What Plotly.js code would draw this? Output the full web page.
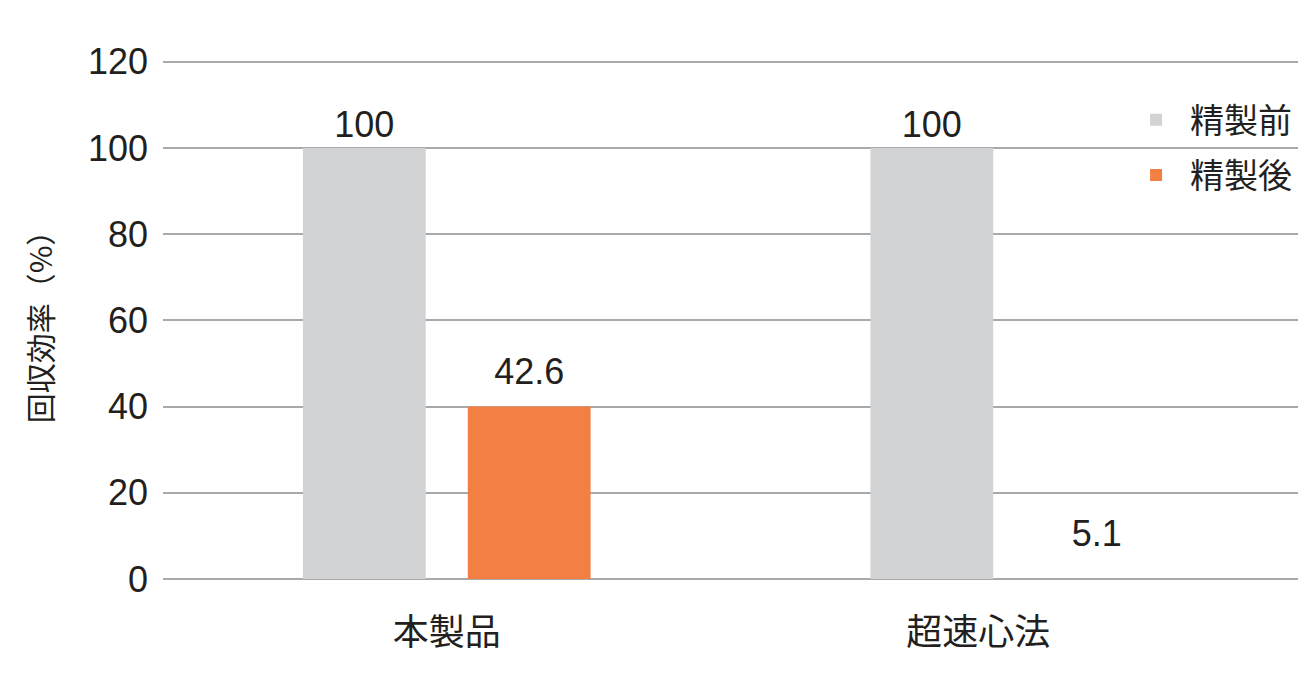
<!DOCTYPE html>
<html>
<head>
<meta charset="utf-8">
<script src="https://cdn.plot.ly/plotly-3.0.1.min.js"></script>
<style>
  html, body { margin: 0; padding: 0; background: #fff; }
  #chart { width: 1312px; height: 675px; }
</style>
</head>
<body>
<div id="chart"></div>
<script>
// categories and values
var categories = ['本製品', '超速心法'];
var categoryLabels = ['本製品', '超速心法　　'];
var beforeValues = [100, 100];        // 精製前
var afterValues = [42.6, 5.1];        // 精製後, as labelled
var afterDrawn = [40, 0];             // 精製後, bar height as drawn
var yTicks = [0, 20, 40, 60, 80, 100, 120];

var FONT = 'Liberation Sans, Arial, "Noto Sans CJK JP", sans-serif';
var TXT = '#231f20';

var before = {
    type: 'bar',
    name: '精製前',
    x: categories,
    y: beforeValues,
    text: beforeValues.map(String),
    textposition: 'outside',
    textfont: { family: FONT, size: 36, color: TXT },
    marker: { color: '#d1d3d4' },
    offsetgroup: 'a',
    legendgroup: 'a',
    cliponaxis: false,
    hoverinfo: 'skip'
};

var after = {
    type: 'bar',
    name: '精製後',
    x: categories,
    y: afterDrawn,
    marker: { color: '#f37f43' },
    offsetgroup: 'b',
    legendgroup: 'b',
    hoverinfo: 'skip'
};

// invisible bars carrying the 精製後 labels at their labelled values
var afterLabels = {
    type: 'bar',
    x: categories,
    y: afterValues,
    text: afterValues.map(String),
    textposition: 'outside',
    textfont: { family: FONT, size: 36, color: TXT },
    marker: { color: 'rgba(0,0,0,0)' },
    offsetgroup: 'b',
    showlegend: false,
    cliponaxis: false,
    hoverinfo: 'skip'
};

var layout = {
    width: 1312,
    height: 675,
    margin: { l: 163, r: 14, t: 60, b: 96 },
    paper_bgcolor: '#ffffff',
    plot_bgcolor: '#ffffff',
    font: { family: FONT, color: TXT },
    barmode: 'group',
    bargap: 0.419,
    bargroupgap: 0.255,
    showlegend: true,
    legend: {
        x: 0.845, y: 0.94,
        xanchor: 'left', yanchor: 'top',
        bgcolor: 'rgba(0,0,0,0)',
        font: { family: FONT, size: 34, color: TXT },
        itemwidth: 58,
        traceorder: 'grouped',
        tracegroupgap: 8
    },
    xaxis: {
        type: 'category',
        tickmode: 'array',
        tickvals: categories,
        ticktext: categoryLabels,
        tickfont: { family: FONT, size: 36, color: TXT },
        ticks: '',
        ticklabelstandoff: 29,
        showgrid: false,
        showline: false,
        zeroline: false,
        fixedrange: true
    },
    yaxis: {
        range: [0, 120.4],
        tickmode: 'array',
        tickvals: yTicks,
        tickfont: { family: FONT, size: 36, color: TXT },
        ticks: '',
        ticklabelstandoff: 14,
        showgrid: true,
        gridcolor: '#a7a9ac',
        gridwidth: 2,
        zeroline: true,
        zerolinecolor: '#a7a9ac',
        zerolinewidth: 2,
        showline: false,
        fixedrange: true,
        title: {
            text: '回収効率（%）',
            font: { family: '"Noto Sans CJK JP", sans-serif', size: 30, color: TXT },
            standoff: 26
        }
    }
};

Plotly.newPlot('chart', [before, after, afterLabels], layout, { staticPlot: true, displayModeBar: false });
</script>
</body>
</html>
